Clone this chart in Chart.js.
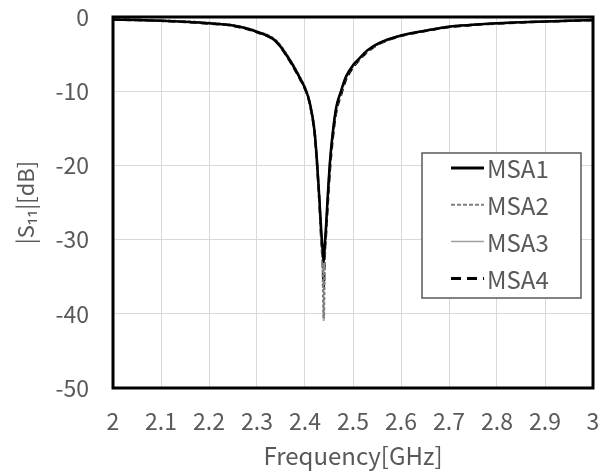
<!DOCTYPE html>
<html>
<head>
<meta charset="utf-8">
<script src="https://cdn.jsdelivr.net/npm/chart.js@4/dist/chart.umd.min.js"></script>
<style>
  html, body { margin: 0; padding: 0; background: #fff; }
  #wrap { width: 605px; height: 475px; }
</style>
</head>
<body>
<div id="wrap"><canvas id="chartCanvas" width="605" height="475"></canvas></div>
<script>
/* Values */
var freq = [2.0, 2.05, 2.1, 2.15, 2.2, 2.25, 2.3, 2.34, 2.37, 2.39, 2.4, 2.41, 2.42, 2.425, 2.43, 2.434, 2.437, 2.439,
            2.441, 2.444, 2.448, 2.452, 2.458, 2.465, 2.475, 2.485, 2.5, 2.51, 2.53, 2.555, 2.6, 2.65, 2.7, 2.75, 2.8,
            2.85, 2.9, 2.95, 3.0];

var msa1 = [-0.35, -0.4, -0.5, -0.65, -0.85, -1.15, -2.0, -3.3, -6.0, -8.3, -9.6, -11.6, -15.5, -19.5, -24.5, -29, -31.5, -33,
            -31, -28, -23.5, -19.5, -15.5, -12.2, -10, -8.1, -6.5, -5.8, -4.5, -3.5, -2.5, -1.85, -1.3, -1.05, -0.85,
            -0.72, -0.6, -0.5, -0.4];
var msa2 = [-0.3, -0.4, -0.5, -0.6, -0.8, -1.1, -1.95, -3.2, -5.9, -8.2, -9.5, -11.5, -15.4, -19.6, -25, -30, -34, -40.8,
            -33, -28.5, -23.8, -19.8, -15.7, -12.4, -10.2, -8.2, -6.6, -5.9, -4.6, -3.55, -2.5, -1.85, -1.3, -1.05, -0.85,
            -0.7, -0.6, -0.5, -0.4];
var msa3 = [-0.3, -0.38, -0.48, -0.62, -0.82, -1.1, -1.9, -3.2, -5.8, -8.1, -9.4, -11.4, -15.2, -19.3, -24.5, -29.5, -32.5, -35,
            -31.5, -28, -23.4, -19.3, -15.3, -12.1, -9.9, -8.0, -6.4, -5.7, -4.4, -3.45, -2.45, -1.8, -1.25, -1.0, -0.82,
            -0.7, -0.58, -0.48, -0.38];
var msa4 = [-0.35, -0.42, -0.52, -0.66, -0.88, -1.2, -2.05, -3.35, -6.1, -8.4, -9.7, -11.7, -15.7, -19.8, -25, -30, -33, -36.5,
            -32, -29, -24.5, -20.5, -16.2, -12.8, -10.5, -8.5, -6.8, -6.0, -4.7, -3.6, -2.55, -1.9, -1.35, -1.08, -0.88,
            -0.74, -0.62, -0.52, -0.42];

var seriesNames = ['MSA1', 'MSA2', 'MSA3', 'MSA4'];
var xTicks = [2, 2.1, 2.2, 2.3, 2.4, 2.5, 2.6, 2.7, 2.8, 2.9, 3];
var yTicks = [0, -10, -20, -30, -40, -50];

var FONT = '"Noto Sans CJK JP", "Noto Sans", sans-serif';
var TEXT_COLOR = '#595959';

/* Turn a value list into {x, y} points on the frequency axis */
function toPoints(values) {
    var pts = [];
    for (var i = 0; i < freq.length; i++) {
        pts.push({ x: freq[i], y: values[i] });
    }
    return pts;
}

/* Thick frame around the plot area */
var framePlugin = {
    id: 'frame',
    afterDatasetsDraw: function (chart) {
        var a = chart.chartArea;
        var ctx = chart.ctx;
        ctx.save();
        ctx.strokeStyle = '#000';
        ctx.lineWidth = 3;
        ctx.strokeRect(a.left, a.top, a.right - a.left, a.bottom - a.top);
        ctx.restore();
    }
};

/* Boxed legend inside the plot, drawn from the dataset styles */
var boxLegendPlugin = {
    id: 'boxLegend',
    afterDraw: function (chart) {
        var a = chart.chartArea;
        var ctx = chart.ctx;
        var x0 = a.right - 171, y0 = a.top + 136;
        var w = 159, h = 145;
        ctx.save();
        ctx.fillStyle = '#fff';
        ctx.fillRect(x0, y0, w, h);
        ctx.strokeStyle = '#595959';
        ctx.lineWidth = 1.5;
        ctx.strokeRect(x0, y0, w, h);

        ctx.font = '24px ' + FONT;
        ctx.textBaseline = 'middle';
        ctx.textAlign = 'left';
        chart.data.datasets.forEach(function (ds, i) {
            var cy = y0 + 15 + i * 36.8;
            ctx.beginPath();
            ctx.strokeStyle = ds.borderColor;
            ctx.lineWidth = ds.legendWidth;
            ctx.setLineDash(ds.legendDash);
            ctx.moveTo(x0 + 29, cy);
            ctx.lineTo(x0 + 62, cy);
            ctx.stroke();
            ctx.setLineDash([]);
            ctx.fillStyle = TEXT_COLOR;
            ctx.fillText(ds.label, x0 + 65, cy + 1);
        });
        ctx.restore();
    }
};

var ctx = document.getElementById('chartCanvas').getContext('2d');
var chart = new Chart(ctx, {
    type: 'line',
    data: {
        datasets: [{
            label: seriesNames[0],
            data: toPoints(msa1),
            borderColor: '#000000',
            borderWidth: 2.5,
            legendWidth: 3,
            legendDash: []
        }, {
            label: seriesNames[1],
            data: toPoints(msa2),
            borderColor: '#7f7f7f',
            borderWidth: 2.5,
            borderDash: [3, 2],
            legendWidth: 2,
            legendDash: [4, 2]
        }, {
            label: seriesNames[2],
            data: toPoints(msa3),
            borderColor: '#a0a0a0',
            borderWidth: 1.5,
            legendWidth: 1.5,
            legendDash: []
        }, {
            label: seriesNames[3],
            data: toPoints(msa4),
            borderColor: '#000000',
            borderWidth: 2.5,
            borderDash: [7, 4],
            legendWidth: 3,
            legendDash: [10, 6]
        }]
    },
    options: {
        responsive: false,
        animation: false,
        layout: { padding: { left: 0, right: 12, top: 17, bottom: 0 } },
        elements: {
            point: { radius: 0 },
            line: { cubicInterpolationMode: 'monotone', fill: false }
        },
        plugins: {
            legend: { display: false },
            tooltip: { enabled: false }
        },
        scales: {
            x: {
                type: 'linear',
                min: 2,
                max: 3,
                afterBuildTicks: function (scale) {
                    scale.ticks = xTicks.map(function (v) { return { value: v }; });
                },
                afterFit: function (scale) {
                    scale.height = 87;
                    scale.paddingLeft = 0;
                    scale.paddingRight = 0;
                },
                border: { display: false },
                grid: { color: '#d9d9d9', lineWidth: 1, drawTicks: false },
                ticks: {
                    color: TEXT_COLOR,
                    font: { family: FONT, size: 23 },
                    padding: 19,
                    maxRotation: 0,
                    autoSkip: false,
                    callback: function (v) { return String(Math.round(v * 10) / 10); }
                },
                title: {
                    display: true,
                    text: 'Frequency[GHz]',
                    color: TEXT_COLOR,
                    font: { family: FONT, size: 24 },
                    padding: { top: 0, bottom: 5 }
                }
            },
            y: {
                min: -50,
                max: 0,
                afterBuildTicks: function (scale) {
                    scale.ticks = yTicks.map(function (v) { return { value: v }; });
                },
                afterFit: function (scale) {
                    scale.width = 113;
                    scale.paddingTop = 0;
                    scale.paddingBottom = 0;
                },
                border: { display: false },
                grid: { color: '#d9d9d9', lineWidth: 1, drawTicks: false },
                ticks: {
                    color: TEXT_COLOR,
                    font: { family: FONT, size: 23 },
                    padding: 24,
                    autoSkip: false
                },
                title: {
                    display: true,
                    text: '|S\u2081\u2081|[dB]',
                    color: TEXT_COLOR,
                    font: { family: FONT, size: 22 },
                    padding: { top: 12, bottom: 0 }
                }
            }
        }
    },
    plugins: [framePlugin, boxLegendPlugin]
});
</script>
</body>
</html>
